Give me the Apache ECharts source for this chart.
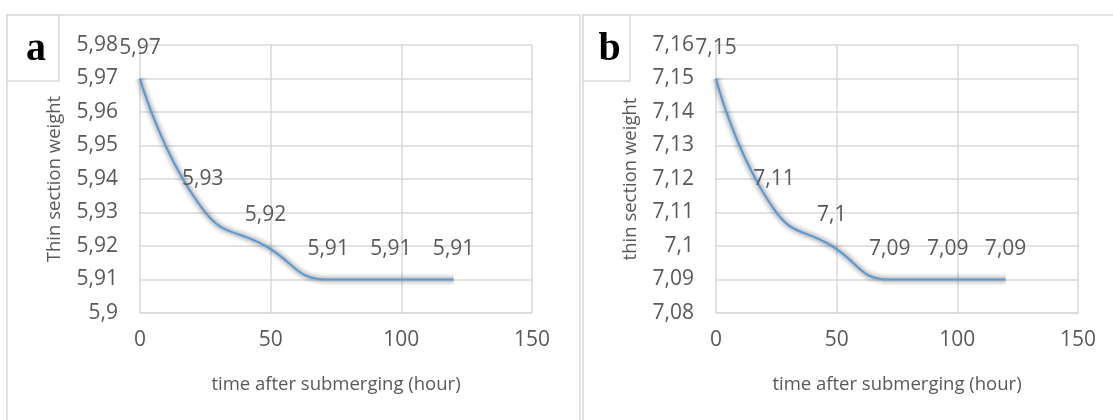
<!DOCTYPE html>
<html>
<head>
<meta charset="utf-8">
<script src="https://cdn.jsdelivr.net/npm/echarts@6/dist/echarts.min.js"></script>
<style>
  html, body { margin: 0; padding: 0; background: #fff; }
  #main { width: 1113px; height: 420px; }
</style>
</head>
<body>
<div id="main"></div>
<script>
// data
const hours = [0, 24, 48, 72, 96, 120];
const weightA = [5.97, 5.931, 5.92, 5.91, 5.91, 5.91];
const weightB = [7.15, 7.111, 7.10, 7.09, 7.09, 7.09];
const panelNames = ['a', 'b'];
const yNames = ['Thin section weight', 'thin section weight'];
const xName = 'time after submerging (hour)';

const grey = '#595959';
const lineGrey = '#d9d9d9';
const font = 'Open Sans';

// 5.9 -> "5,9", 5.93 -> "5,93"
function comma(v) {
  return String(+(+v).toFixed(2)).replace('.', ',');
}

function pairs(ys) {
  return hours.map((h, i) => [h, ys[i]]);
}

const grids = [
  { left: 140, top: 45, width: 392, height: 268 },
  { left: 716, top: 45, width: 362, height: 268 }
];

function xAxis(i) {
  return {
    gridIndex: i, type: 'value', min: 0, max: 150, interval: 50,
    name: xName, nameLocation: 'middle', nameGap: 62,
    nameTextStyle: { color: grey, fontFamily: font, fontSize: 18.5 },
    axisLine: { show: true, lineStyle: { color: lineGrey, width: 1.5 } },
    axisTick: { show: false },
    axisLabel: { color: grey, fontFamily: font, fontSize: 21, margin: 17 },
    splitLine: { show: true, lineStyle: { color: lineGrey, width: 1.5 } }
  };
}

function yAxis(i, min, max) {
  return {
    gridIndex: i, type: 'value', min: min, max: max, interval: 0.01,
    name: yNames[i], nameLocation: 'middle', nameGap: 76, nameRotate: 90,
    nameTextStyle: { color: grey, fontFamily: font, fontSize: 18.5 },
    axisLine: { show: false },
    axisTick: { show: false },
    axisLabel: { color: grey, fontFamily: font, fontSize: 21, margin: 22, formatter: comma },
    splitLine: { show: true, lineStyle: { color: lineGrey, width: 1.5 } }
  };
}

function series(i, ys) {
  return {
    type: 'line', xAxisIndex: i, yAxisIndex: i, z: 3,
    data: pairs(ys), smooth: 0.5,
    symbol: 'circle', symbolSize: 0, showSymbol: true,
    lineStyle: { color: '#5b9bd5', width: 2.2 },
    label: {
      show: true, position: 'top', distance: 20,
      color: grey, fontFamily: font, fontSize: 21,
      formatter: p => comma(p.value[1])
    },
    labelLayout: { hideOverlap: false }
  };
}

// soft grey band under the line, stacked to fake Excel's blurred shadow
function shadow(i, ys, w, a) {
  return {
    type: 'line', xAxisIndex: i, yAxisIndex: i, z: 2, silent: true,
    data: pairs(ys), smooth: 0.5, showSymbol: false,
    lineStyle: {
      color: 'rgba(0,0,0,' + a + ')', width: w,
      shadowColor: 'rgba(0,0,0,' + a + ')', shadowBlur: 6, shadowOffsetX: 2, shadowOffsetY: 3
    }
  };
}

function shadows(i, ys) {
  return [shadow(i, ys, 12, 0.05), shadow(i, ys, 8, 0.07), shadow(i, ys, 5, 0.08)];
}

function frame(x, w) {
  return { type: 'rect', shape: { x: x, y: 15, width: w, height: 420 },
    style: { fill: 'none', stroke: lineGrey, lineWidth: 1.5 }, silent: true };
}

function tag(x, w, text) {
  return [
    { type: 'rect', shape: { x: x, y: 15, width: w, height: 66 },
      style: { fill: '#fff', stroke: lineGrey, lineWidth: 1.5 }, silent: true },
    { type: 'text', x: x + w / 2 + 3, y: 50,
      style: { text: text, fill: '#000', font: 'bold 40px "Liberation Serif"', align: 'center', verticalAlign: 'middle' } }
  ];
}

const chart = echarts.init(document.getElementById('main'));
chart.setOption({
  backgroundColor: '#fff',
  animation: false,
  grid: grids,
  xAxis: [xAxis(0), xAxis(1)],
  yAxis: [yAxis(0, 5.9, 5.98), yAxis(1, 7.08, 7.16)],
  series: [
    ...shadows(0, weightA), series(0, weightA),
    ...shadows(1, weightB), series(1, weightB)
  ],
  graphic: [
    frame(7, 573),
    frame(583, 540),
    ...tag(7, 52, panelNames[0]),
    ...tag(583, 47, panelNames[1])
  ]
});
</script>
</body>
</html>
